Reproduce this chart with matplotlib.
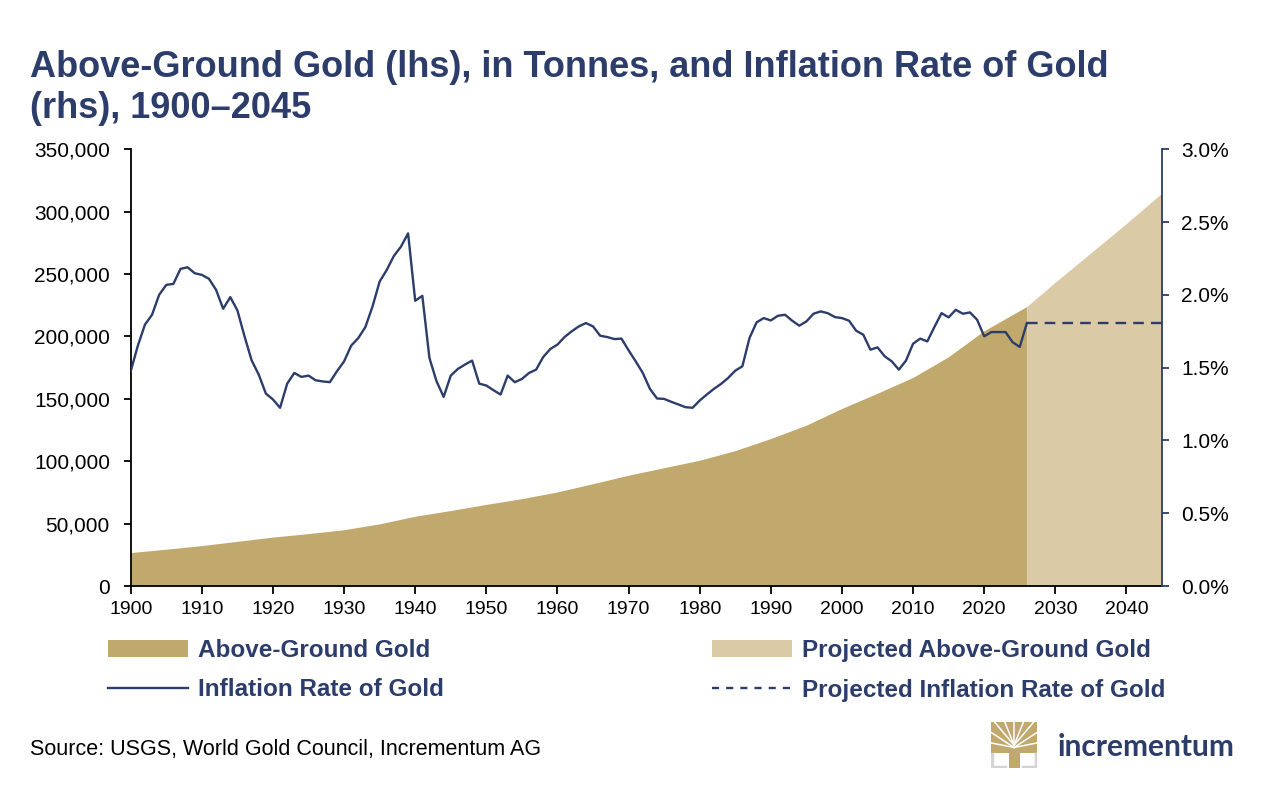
import numpy as np
import matplotlib.pyplot as plt
from matplotlib import ticker
from matplotlib.patches import Patch, Rectangle
from matplotlib.lines import Line2D

plt.rcParams['font.family'] = ['Liberation Sans', 'DejaVu Sans']

# colours
NAVY = '#2C3D6B'
GOLD = '#C1A86D'
GOLD_LIGHT = '#DACAA6'

# ---- data ----
years_gold = [1900, 1905, 1910, 1915, 1920, 1925, 1930, 1935, 1940, 1945, 1950,
              1955, 1960, 1965, 1970, 1975, 1980, 1985, 1990, 1995, 2000, 2005,
              2010, 2015, 2020, 2026]
gold_t = [26800, 29500, 32400, 35800, 39200, 42000, 45100, 49800, 55900, 60500,
          65400, 70000, 75400, 82000, 88800, 94800, 100800, 108500, 118200,
          128900, 142300, 154500, 167200, 183800, 204600, 224000]

years_proj = [2026, 2030, 2035, 2040, 2045]
gold_proj = [224000, 243500, 267000, 290500, 315000]

years_infl = list(range(1900, 2027))
infl = [1.475, 1.65, 1.795, 1.863, 2.00, 2.068, 2.075, 2.178, 2.189, 2.148,
        2.137, 2.11, 2.034, 1.904, 1.984, 1.893, 1.715, 1.55, 1.452, 1.322,
        1.281, 1.224, 1.39, 1.463, 1.436, 1.445, 1.413, 1.405, 1.40, 1.475,
        1.543, 1.651, 1.703, 1.779, 1.92, 2.091, 2.171, 2.267, 2.331, 2.422,
        1.959, 1.993, 1.566, 1.406, 1.299, 1.445, 1.491, 1.521, 1.548, 1.39,
        1.377, 1.345, 1.315, 1.445, 1.40, 1.422, 1.463, 1.486, 1.573, 1.628,
        1.658, 1.71, 1.749, 1.783, 1.806, 1.783, 1.719, 1.71, 1.696, 1.699,
        1.619, 1.543, 1.463, 1.354, 1.288, 1.285, 1.265, 1.247, 1.228, 1.224,
        1.274, 1.315, 1.354, 1.388, 1.429, 1.479, 1.509, 1.703, 1.811, 1.840,
        1.824, 1.856, 1.863, 1.822, 1.788, 1.817, 1.87, 1.886, 1.874, 1.847,
        1.84, 1.822, 1.753, 1.726, 1.623, 1.639, 1.578, 1.543, 1.486, 1.548,
        1.664, 1.699, 1.68, 1.779, 1.874, 1.845, 1.897, 1.87, 1.879, 1.829,
        1.715, 1.744, 1.744, 1.744, 1.674, 1.642, 1.806]

years_infl_proj = [2026, 2045]
infl_proj = [1.806, 1.806]

xticks = list(range(1900, 2041, 10))

# ---- figure ----
fig = plt.figure(figsize=(12.74, 8), dpi=100)
ax = fig.add_axes([0.1026, 0.2675, 0.8095, 0.546])
ax2 = ax.twinx()

ax.fill_between(years_gold, gold_t, color=GOLD, lw=0)
ax.fill_between(years_proj, gold_proj, color=GOLD_LIGHT, lw=0)
ax.set_xlim(1900, 2045)
ax.set_ylim(0, 350000)

ax2.plot(years_infl, infl, color=NAVY, lw=1.7)
ax2.plot(years_infl_proj, infl_proj, color=NAVY, lw=1.7, dashes=(4.5, 3))
ax2.set_ylim(0, 3.0)

# axes styling
for s in ['top', 'right']:
    ax.spines[s].set_visible(False)
for s in ['top', 'left', 'bottom']:
    ax2.spines[s].set_visible(False)
ax.spines['left'].set_linewidth(1.3)
ax.spines['bottom'].set_linewidth(1.3)
ax2.spines['right'].set_color(NAVY)
ax2.spines['right'].set_linewidth(1.3)

ax.set_xticks(xticks)
ax.set_yticks(np.arange(0, 350001, 50000))
ax2.set_yticks(np.arange(0, 3.01, 0.5))
ax.yaxis.set_major_formatter(ticker.FuncFormatter(lambda v, p: f'{v:,.0f}'))
ax2.yaxis.set_major_formatter(ticker.FuncFormatter(lambda v, p: f'{v:.1f}%'))

ax.tick_params(axis='y', direction='out', length=5, width=1.3,
               labelsize=15, pad=10)
ax.tick_params(axis='x', direction='out', length=6, width=1.3,
               labelsize=14, pad=5)
ax2.tick_params(axis='y', direction='out', length=5, width=1.3, color=NAVY,
                labelcolor='black', labelsize=15, pad=9)

# title
fig.text(0.0235, 0.937,
         "Above-Ground Gold (lhs), in Tonnes, and Inflation Rate of Gold\n(rhs), 1900\u20132045",
         fontsize=26, fontweight='bold', color=NAVY, va='top', ha='left',
         linespacing=1.2)

# legend (two columns, placed item by item)
items = [
    (Patch(facecolor=GOLD, edgecolor='none'), 'Above-Ground Gold', 0.0848, 0.1865),
    (Patch(facecolor=GOLD_LIGHT, edgecolor='none'), 'Projected Above-Ground Gold', 0.5589, 0.1865),
    (Line2D([], [], color=NAVY, lw=1.7), 'Inflation Rate of Gold', 0.0848, 0.1375),
    (Line2D([], [], color=NAVY, lw=1.7, dashes=(3, 3)), 'Projected Inflation Rate of Gold', 0.5589, 0.1375),
]
for h, lab, x0, y0 in items:
    leg = fig.legend([h], [lab], loc='center left', bbox_to_anchor=(x0, y0),
                     frameon=False, fontsize=17.5, handlelength=3.3,
                     handleheight=0.7, handletextpad=0.4, borderpad=0,
                     borderaxespad=0)
    for t in leg.get_texts():
        t.set_color(NAVY)
        t.set_fontweight('bold')

# source
fig.text(0.0235, 0.0625, 'Source: USGS, World Gold Council, Incrementum AG',
         fontsize=15.5, color='black', va='center', ha='left')

# logo: gold tree block with white branches and grey base corners
lax = fig.add_axes([0.778, 0.04, 0.036, 0.057])
lax.set_xlim(0, 1)
lax.set_ylim(0, 1)
lax.axis('off')
lax.add_patch(Rectangle((0, 0.32), 1, 0.68, color=GOLD, lw=0))
lax.add_patch(Rectangle((0.38, 0), 0.24, 0.34, color=GOLD, lw=0))
for xe in [0.08, 0.3, 0.5, 0.7, 0.92]:
    lax.plot([0.5, xe], [0.5, 1.0], color='white', lw=1.1)
for ye in [0.55, 0.78]:
    lax.plot([0.5, 0.0], [0.45, ye], color='white', lw=1.1)
    lax.plot([0.5, 1.0], [0.45, ye], color='white', lw=1.1)
lax.plot([0.02, 0.02, 0.3], [0.3, 0.02, 0.02], color='#D4D4D4', lw=2.5)
lax.plot([0.7, 0.98, 0.98], [0.02, 0.02, 0.3], color='#D4D4D4', lw=2.5)
fig.text(0.83, 0.066, 'incrementum', fontsize=21.5, fontweight='bold',
         family=['Lato', 'DejaVu Sans'], color=NAVY, va='center', ha='left')

fig.savefig('out.png', dpi=100)
